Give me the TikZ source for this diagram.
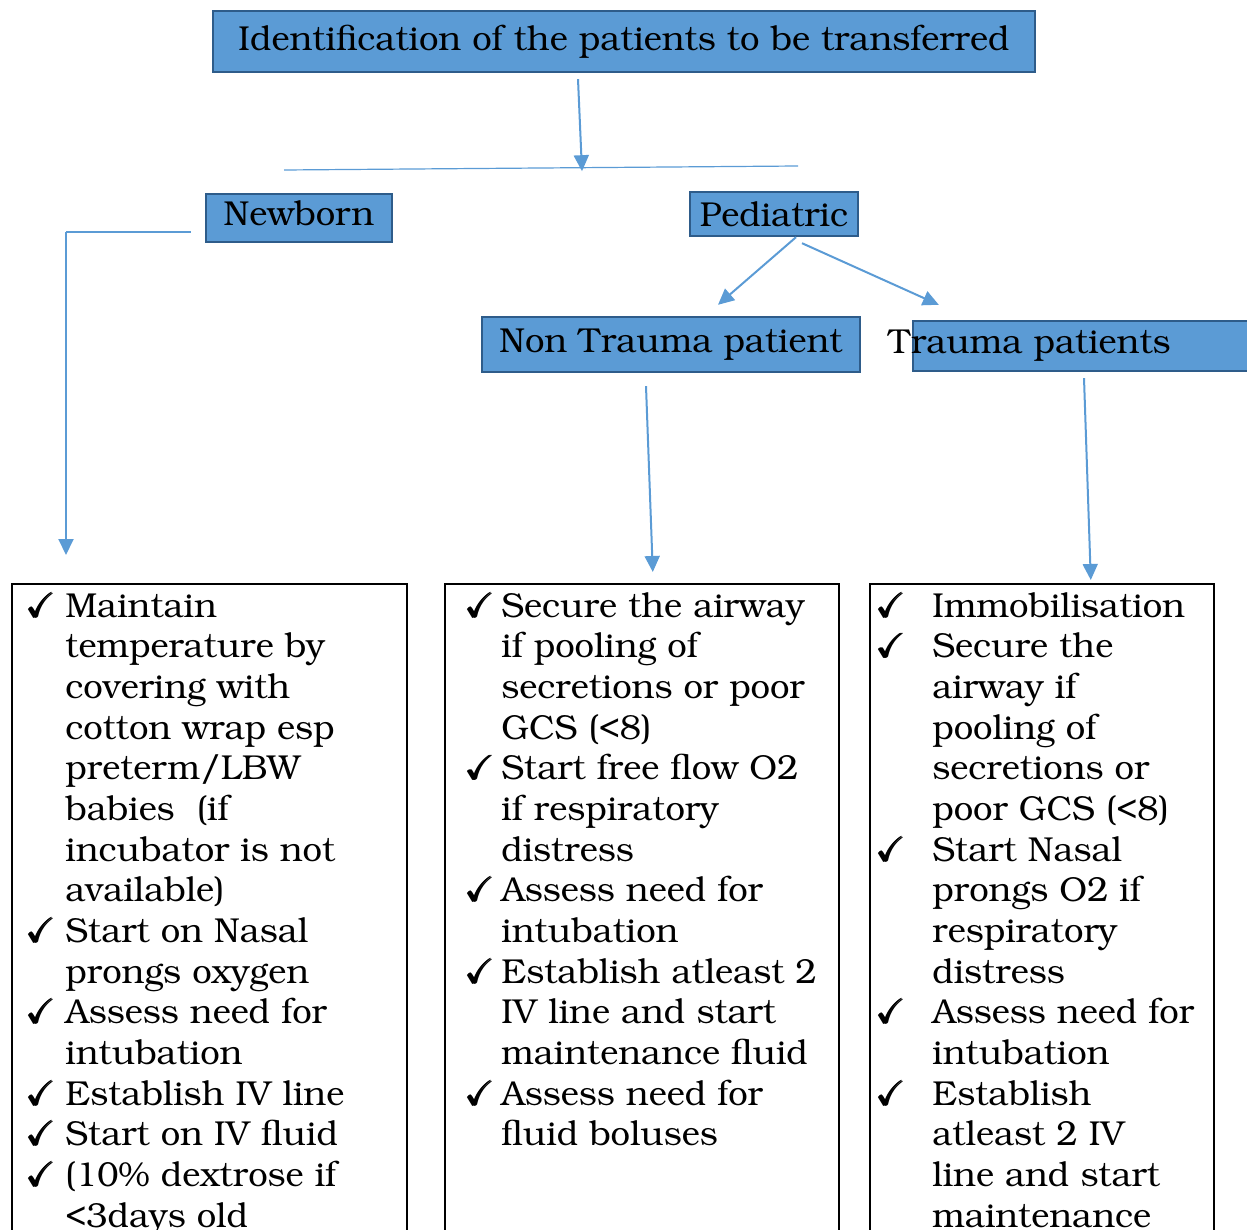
\documentclass[tikz,border=0pt]{standalone}
\usepackage[T1]{fontenc}
\usepackage{bookman}
\usepackage{amsmath,amssymb}
\usetikzlibrary{arrows.meta,calc}

\definecolor{boxblue}{HTML}{5B9BD5}
\definecolor{boxedge}{HTML}{2E5C8A}
\definecolor{linkblue}{HTML}{5B9BD5}

% check mark column of the lists
\newlength\tickw
\newcommand\tick{\makebox[\tickw][l]{$\pmb{\checkmark}$}}
\newcommand\ind{\hspace*{\tickw}}
\newcommand\labfont{\fontsize{17.3}{20.33}\selectfont}

\tikzset{
  catbox/.style={draw=boxedge,fill=boxblue,line width=1.2pt,inner sep=0pt,font=\labfont},
  link/.style={draw=linkblue,line width=1pt,-{Triangle[length=8pt,width=7.5pt]}},
  plain/.style={draw=linkblue,line width=0.6pt},
  frame/.style={draw,line width=0.8pt,anchor=north west,minimum height=350pt},
  checklist/.style={anchor=north west,align=left,inner sep=0pt,font=\labfont},
}

\begin{document}
\begin{tikzpicture}[x=0.5pt,y=-0.5pt]
\useasboundingbox (0,0) rectangle (1247,1230);
\clip (0,0) rectangle (1247,1230);

% category boxes
\node[catbox,minimum width=411pt,minimum height=30.5pt] (ident) at (624,41.5)
  {Identification of the patients to be transferred};
\node[catbox,minimum width=93pt,minimum height=24pt,text depth=5pt] (newborn) at (299,218)
  {Newborn};
\node[catbox,minimum width=84pt,minimum height=22pt] (pediatric) at (774,214) {Pediatric};
\node[catbox,minimum width=189pt,minimum height=27.5pt] (nontrauma) at (671,344.5)
  {Non Trauma patient};
\node[catbox,minimum width=176pt,minimum height=25pt] (trauma) at (1089,346) {};
\node[anchor=base west,inner sep=0pt,font=\labfont] (traumatext) at (888,353)
  {Trauma patients};

% list frames
\node[frame,minimum width=197.5pt] (nbframe) at (11,583) {};
\node[frame,minimum width=197pt] (ntframe) at (444,583) {};
\node[frame,minimum width=172pt] (trframe) at (869,583) {};

% connectors
\coordinate (splitL) at (284,170);
\coordinate (splitR) at (798,166);
\coordinate (nbturn) at (66,232);
\draw[link] ($(ident.south)+(-46,6)$) -- ($(ident.south)+(-42,98)$);
\draw[plain] (splitL) -- (splitR);
\draw[plain] ($(newborn.west)+(-14,14)$) -- (nbturn);
\draw[link] (nbturn) -- ($(nbframe.north west)+(55,-28)$);
\draw[link] ($(pediatric.south)+(22,0)$) -- ($(nontrauma.north)+(47,-11)$);
\draw[link] ($(pediatric.south)+(28,6)$) -- ($(trauma.north west)+(27,-15)$);
\draw[link] ($(nontrauma.south)+(-25,13)$) -- ($(ntframe.north)+(11,-11)$);
\draw[link] ($(trauma.south)+(-5,6)$) -- ($(trframe.north)+(49,-3)$);

% lists
\node[checklist,execute at begin node={\setlength\tickw{19pt}}] (nblist) at (27,592) {%
  \tick Maintain\\ \ind temperature by\\ \ind covering with\\
  \ind cotton wrap esp\\ \ind preterm/LBW\\ \ind babies\ \ (if\\
  \ind incubator is not\\ \ind available)\\
  \tick Start on Nasal\\ \ind prongs oxygen\\
  \tick Assess need for\\ \ind intubation\\
  \tick Establish IV line\\
  \tick Start on IV fluid\\
  \tick (10\% dextrose if\\ \ind <3days old};
\node[checklist,execute at begin node={\setlength\tickw{17.5pt}}] (ntlist) at (466,592) {%
  \tick Secure the airway\\ \ind if pooling of\\ \ind secretions or poor\\
  \ind GCS (<8)\\
  \tick Start free flow O2\\ \ind if respiratory\\ \ind distress\\
  \tick Assess need for\\ \ind intubation\\
  \tick Establish atleast 2\\ \ind IV line and start\\ \ind maintenance fluid\\
  \tick Assess need for\\ \ind fluid boluses};
\node[checklist,execute at begin node={\setlength\tickw{27.5pt}}] (trlist) at (877,592) {%
  \tick Immobilisation\\
  \tick Secure the\\ \ind airway if\\ \ind pooling of\\ \ind secretions or\\
  \ind poor GCS (<8)\\
  \tick Start Nasal\\ \ind prongs O2 if\\ \ind respiratory\\ \ind distress\\
  \tick Assess need for\\ \ind intubation\\
  \tick Establish\\ \ind atleast 2 IV\\ \ind line and start\\ \ind maintenance};
\end{tikzpicture}
\end{document}
